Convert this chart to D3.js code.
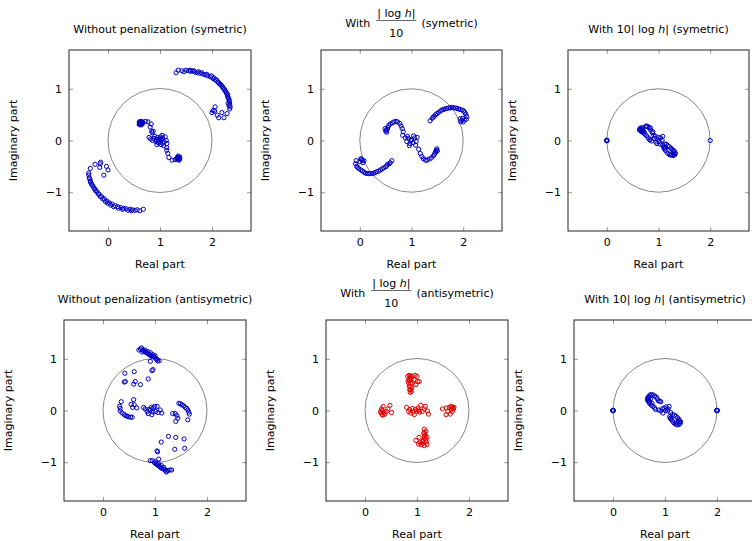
<!DOCTYPE html>
<html>
<head>
<meta charset="utf-8">
<script src="https://cdn.jsdelivr.net/npm/d3@7"></script>
<style>
  body { margin: 0; background: #fff; }
  text { font-family: "DejaVu Sans", sans-serif; font-size: 11px; fill: #000; }
</style>
</head>
<body>
<div id="chart"></div>
<script>
var width = 752,
    height = 541;

var xTicks = [0, 1, 2],
    yTicks = [-1, 0, 1];

// eigenvalues: [real, imaginary]
var symNoPen = [
  [1.31,1.31],[1.35,1.36],[1.42,1.35],[1.46,1.33],[1.50,1.36],[1.55,1.35],[1.59,1.34],[1.63,1.34],[1.68,1.32],[1.72,1.31],
  [1.77,1.30],[1.83,1.28],[1.87,1.27],[1.92,1.25],[1.97,1.23],[2.02,1.20],[2.06,1.17],[2.11,1.13],[2.15,1.09],[2.19,1.05],
  [2.22,1.01],[2.25,0.96],[2.28,0.91],[2.30,0.86],[2.32,0.81],[2.34,0.75],[2.34,0.70],[2.35,0.65],[2.34,0.61],
  [1.58,1.36],[1.65,1.35],[1.74,1.33],[1.80,1.31],[1.90,1.28],[1.99,1.25],[2.04,1.21],[2.09,1.17],[2.13,1.12],[2.17,1.08],
  [2.21,1.03],[2.24,0.99],[2.27,0.94],[2.30,0.89],[2.31,0.83],[2.33,0.78],[2.31,0.72],[2.33,0.67],
  [2.00,0.54],[2.06,0.65],[2.05,0.57],[2.10,0.49],[2.13,0.44],[2.23,0.44],[2.29,0.52],[2.19,0.54],[2.02,0.58],
  [0.68,-1.33],[0.61,-1.36],[0.56,-1.34],[0.52,-1.35],[0.47,-1.34],[0.42,-1.33],[0.35,-1.32],[0.30,-1.31],[0.25,-1.30],
  [0.19,-1.28],[0.14,-1.26],[0.08,-1.23],[0.03,-1.21],[-0.02,-1.17],[-0.07,-1.13],[-0.12,-1.09],[-0.17,-1.04],[-0.21,-0.99],
  [-0.25,-0.94],[-0.29,-0.88],[-0.32,-0.83],[-0.34,-0.78],[-0.36,-0.72],[-0.37,-0.67],[-0.37,-0.63],
  [0.45,-1.36],[0.38,-1.35],[0.28,-1.33],[0.20,-1.31],[0.11,-1.28],[0.05,-1.25],[-0.01,-1.21],[-0.05,-1.18],[-0.10,-1.13],
  [-0.15,-1.08],[-0.19,-1.03],[-0.24,-0.97],[-0.27,-0.92],[-0.31,-0.86],[-0.34,-0.80],[-0.35,-0.74],
  [-0.34,-0.54],[-0.25,-0.46],[-0.15,-0.45],[-0.16,-0.52],[-0.03,-0.50],[0.00,-0.57],[-0.08,-0.67],[-0.14,-0.42],
  [0.60,0.36],[0.62,0.33],[0.64,0.37],[0.66,0.32],[0.63,0.30],[0.60,0.31],[0.67,0.35],[0.65,0.34],[0.61,0.34],
  [0.62,0.36],[0.64,0.31],[0.66,0.36],[0.61,0.32],[0.63,0.35],
  [0.72,0.37],[0.77,0.36],[0.83,0.32],[0.81,0.26],[0.84,0.18],[0.87,0.18],[0.85,0.15],[0.79,0.06],[0.82,0.03],
  [0.88,0.04],[0.92,-0.02],[0.95,0.06],[0.98,-0.05],[1.00,0.03],[1.02,-0.08],[1.05,0.05],[1.08,-0.02],[1.10,0.07],
  [1.12,0.00],[0.94,-0.08],[0.90,0.08],[1.04,0.10],[1.07,-0.10],[0.97,0.01],[1.13,-0.06],[0.86,0.00],
  [0.93,0.02],[0.99,-0.01],[1.03,0.01],[1.06,-0.05],[0.96,-0.04],[1.01,0.07],
  [1.13,-0.19],[1.15,-0.25],[1.17,-0.33],[1.13,-0.14],
  [1.23,-0.38],[1.29,-0.37],[1.33,-0.33],[1.36,-0.36],[1.38,-0.32],[1.35,-0.30],[1.37,-0.38],[1.32,-0.35],[1.34,-0.37],
  [1.36,-0.33],[1.34,-0.32],[1.38,-0.35],[1.35,-0.34]
];

var symLog = [
  [1.36,0.38],[1.40,0.43],[1.44,0.47],[1.49,0.52],[1.56,0.57],[1.62,0.60],[1.68,0.62],[1.75,0.63],[1.81,0.63],[1.88,0.62],
  [1.94,0.60],[2.01,0.57],[2.05,0.51],[2.07,0.46],[2.06,0.41],
  [1.42,0.45],[1.47,0.50],[1.52,0.54],[1.59,0.59],[1.65,0.61],[1.72,0.63],[1.78,0.64],[1.85,0.63],[1.91,0.61],[1.98,0.59],[2.03,0.54],
  [1.97,0.39],[1.94,0.42],[2.00,0.36],[1.95,0.36],[2.02,0.40],[1.99,0.43],
  [0.62,-0.39],[0.59,-0.43],[0.54,-0.46],[0.50,-0.51],[0.43,-0.55],[0.37,-0.59],[0.30,-0.62],[0.24,-0.64],[0.17,-0.64],
  [0.11,-0.63],[0.05,-0.59],[-0.02,-0.54],[-0.06,-0.50],[-0.08,-0.45],[-0.07,-0.39],
  [0.57,-0.45],[0.52,-0.49],[0.46,-0.53],[0.40,-0.57],[0.33,-0.60],[0.27,-0.63],[0.20,-0.64],[0.14,-0.64],[0.08,-0.61],[0.02,-0.57],[-0.04,-0.52],
  [0.05,-0.38],[0.02,-0.35],[0.08,-0.39],[0.00,-0.41],[0.06,-0.43],[0.03,-0.37],
  [0.51,0.20],[0.49,0.23],[0.54,0.25],[0.52,0.16],[0.50,0.18],[0.53,0.21],
  [0.56,0.29],[0.59,0.32],[0.63,0.34],[0.66,0.36],[0.70,0.37],[0.73,0.36],[0.77,0.33],[0.80,0.28],[0.82,0.23],[0.84,0.17],[0.83,0.10],
  [0.88,0.05],[0.91,-0.02],[0.94,0.04],[0.97,-0.06],[1.00,0.02],[1.03,-0.04],[1.06,0.05],[1.09,-0.02],[1.11,0.06],
  [0.92,0.08],[1.04,0.09],[0.96,-0.10],[1.08,-0.09],[0.99,0.00],
  [1.14,-0.17],[1.17,-0.25],[1.20,-0.31],[1.23,-0.35],[1.27,-0.38],[1.30,-0.38],[1.34,-0.36],[1.38,-0.34],[1.42,-0.30],
  [1.48,-0.19],[1.46,-0.24],[1.49,-0.16],[1.44,-0.27],[1.47,-0.21],[1.50,-0.20]
];

var symTen = [
  [0,0],[0.005,0],[-0.005,0],[0,0.005],[0,-0.005],[2,0],
  [0.64,0.22],[0.66,0.20],[0.68,0.18],[0.70,0.16],[0.65,0.24],[0.69,0.25],[0.72,0.14],[0.74,0.12],[0.67,0.17],
  [0.66,0.23],[0.68,0.22],[0.70,0.20],[0.72,0.17],[0.63,0.20],
  [0.75,0.27],[0.77,0.28],[0.79,0.27],[0.82,0.24],[0.84,0.25],[0.85,0.20],[0.88,0.15],[0.89,0.17],[0.91,0.10],
  [0.77,0.09],[0.80,0.05],[0.83,0.01],[0.84,0.02],[0.87,-0.01],
  [0.92,0.04],[0.95,-0.03],[0.98,0.02],[1.01,-0.02],[1.04,0.05],[1.07,0.01],[1.00,0.06],[0.94,0.08],[1.08,0.08],[0.97,-0.06],[1.03,-0.07],
  [1.08,-0.09],[1.12,-0.07],[1.15,-0.07],[1.18,-0.10],[1.21,-0.12],[1.24,-0.15],[1.28,-0.19],[1.31,-0.22],[1.33,-0.25],
  [1.31,-0.28],[1.28,-0.29],[1.25,-0.28],[1.21,-0.27],[1.18,-0.25],[1.14,-0.20],[1.10,-0.14],[1.12,-0.17],[1.11,-0.12],[1.13,-0.15],
  [1.26,-0.17],[1.30,-0.20],[1.29,-0.26],[1.23,-0.28]
];

var antiNoPen = [
  [0.69,1.17],[0.72,1.19],[0.74,1.21],[0.76,1.17],[0.78,1.15],[0.80,1.14],[0.83,1.12],[0.85,1.11],[0.88,1.09],[0.90,1.08],
  [0.92,1.06],[0.94,1.05],[0.97,1.04],[0.99,1.03],[1.02,1.00],[1.04,0.99],[1.08,0.96],[0.75,1.13],[0.81,1.17],[0.86,1.14],
  [0.91,1.12],[0.96,1.08],[1.00,1.06],[0.91,0.95],[0.96,0.79],[0.94,0.77],[1.05,0.96],
  [0.42,0.72],[0.60,0.75],[0.43,0.56],[0.41,0.55],[0.59,0.51],[0.62,0.56],[0.72,0.50],[0.87,0.61],
  [0.35,0.17],[0.32,0.08],[0.33,-0.01],[0.37,-0.05],[0.41,-0.08],[0.44,-0.10],[0.46,-0.11],[0.49,-0.12],[0.53,-0.13],
  [0.56,-0.13],[0.54,0.12],[0.59,0.21],[0.57,0.06],[0.65,0.05],[0.60,0.11],[0.33,0.04],
  [0.78,0.06],[0.81,0.03],[0.85,-0.02],[0.88,0.02],[0.91,0.01],[0.94,-0.08],[0.97,0.05],[1.01,-0.02],[1.04,0.08],
  [1.10,0.01],[1.13,-0.05],[0.93,0.06],[0.99,0.08],[1.06,-0.04],[0.87,-0.06],[0.96,-0.03],
  [1.46,0.14],[1.49,0.13],[1.52,0.11],[1.55,0.09],[1.58,0.06],[1.61,0.04],[1.63,0.01],[1.65,-0.03],[1.66,-0.07],
  [1.34,-0.06],[1.39,-0.06],[1.44,-0.15],[1.40,-0.21],[1.63,-0.18],[1.42,-0.10],
  [1.26,-0.50],[1.40,-0.52],[1.56,-0.55],[1.12,-0.61],[1.04,-0.78],[1.05,-0.80],[1.38,-0.75],[1.57,-0.73],
  [0.91,-0.97],[0.95,-0.97],[0.99,-1.01],[1.07,-0.94],[1.02,-1.03],[1.04,-1.05],[1.07,-1.07],[1.09,-1.08],[1.11,-1.10],
  [1.13,-1.12],[1.16,-1.13],[1.19,-1.15],[1.21,-1.17],[1.22,-1.19],[1.25,-1.16],[1.29,-1.15],[1.32,-1.15],[1.06,-1.02],
  [1.12,-1.06],[1.17,-1.10],[1.01,-0.99]
];

var antiLog = [
  [0.82,0.66],[0.85,0.68],[0.87,0.67],[0.91,0.66],[0.96,0.68],[1.00,0.66],[0.85,0.59],[0.88,0.53],[0.87,0.46],[0.88,0.40],
  [0.87,0.35],[1.01,0.56],[1.04,0.56],[0.98,0.50],[0.91,0.53],[0.84,0.53],[0.86,0.62],[0.89,0.60],[0.85,0.47],[0.90,0.44],
  [0.86,0.40],[0.89,0.37],[0.83,0.57],[0.88,0.63],[0.94,0.60],
  [1.14,-0.36],[1.15,-0.44],[1.17,-0.40],[1.14,-0.50],[1.17,-0.57],[1.19,-0.66],[1.14,-0.68],[1.08,-0.66],[1.03,-0.65],
  [0.98,-0.58],[1.04,-0.52],[1.12,-0.63],[1.18,-0.61],[1.16,-0.48],[1.15,-0.54],[1.12,-0.58],[1.19,-0.52],[1.13,-0.44],
  [1.10,-0.60],[1.06,-0.62],
  [0.30,-0.02],[0.33,-0.08],[0.38,-0.07],[0.35,0.08],[0.48,0.10],[0.44,0.03],[0.51,-0.04],[0.31,-0.05],[0.33,0.00],
  [0.36,-0.04],[0.41,-0.02],[0.32,0.03],[0.34,-0.09],
  [0.80,0.06],[0.84,-0.02],[0.88,-0.05],[0.95,-0.08],[1.00,-0.01],[1.02,0.05],[1.07,0.10],[1.14,0.03],[1.20,-0.01],
  [1.22,-0.07],[1.16,0.08],[0.91,0.04],[0.97,0.02],[1.05,-0.03],[0.86,0.02],[1.10,-0.02],[0.93,-0.03],[1.03,0.01],
  [1.49,0.03],[1.56,0.05],[1.62,0.06],[1.65,0.08],[1.70,0.03],[1.68,-0.02],[1.64,-0.07],[1.56,-0.08],[1.59,-0.02],
  [1.71,0.06],[1.67,0.07],[1.69,0.05],[1.66,0.02]
];

var antiTen = [
  [0,0],[0.005,0],[-0.005,0],[0,0.005],[0,-0.005],
  [2,0],[2.005,0],[1.995,0],[2,0.005],[2,-0.005],
  [0.67,0.25],[0.71,0.30],[0.74,0.31],[0.77,0.30],[0.80,0.28],[0.83,0.26],[0.85,0.23],[0.87,0.19],[0.90,0.18],[0.92,0.17],
  [0.66,0.22],[0.67,0.19],[0.69,0.16],[0.71,0.13],[0.74,0.10],[0.77,0.08],[0.80,0.05],[0.82,0.02],[0.68,0.21],[0.70,0.18],
  [0.68,0.24],[0.69,0.27],[0.72,0.22],[0.75,0.14],
  [0.88,0.01],[0.92,-0.01],[0.95,0.03],[0.98,0.05],[1.01,0.00],[1.05,-0.01],[1.08,0.08],[1.06,0.03],[0.96,-0.05],[1.02,0.07],
  [1.11,-0.04],[1.14,-0.08],[1.18,-0.09],[1.21,-0.11],[1.24,-0.14],[1.27,-0.17],[1.30,-0.22],[1.29,-0.25],[1.27,-0.27],
  [1.23,-0.28],[1.20,-0.26],[1.17,-0.24],[1.14,-0.20],[1.11,-0.15],[1.10,-0.15],[1.12,-0.17],[1.09,-0.12],
  [1.26,-0.20],[1.28,-0.22],[1.22,-0.24]
];

// frame boxes of the six panels, in pixels
var panels = [
  { data: symNoPen,  color: "#0000c0", left: 69,  right: 251, top: 50,  bottom: 231, title: "plain", text: "Without penalization (symetric)" },
  { data: symLog,    color: "#0000c0", left: 321, right: 502, top: 50,  bottom: 231, title: "frac",  text: "(symetric)" },
  { data: symTen,    color: "#0000c0", left: 568, right: 749, top: 50,  bottom: 231, title: "ten",   text: "(symetric)" },
  { data: antiNoPen, color: "#0000c0", left: 64,  right: 246, top: 320, bottom: 501, title: "plain", text: "Without penalization (antisymetric)" },
  { data: antiLog,   color: "#e00000", left: 326, right: 508, top: 320, bottom: 501, title: "frac",  text: "(antisymetric)" },
  { data: antiTen,   color: "#0000c0", left: 574, right: 756, top: 320, bottom: 501, title: "ten",   text: "(antisymetric)" }
];

var fmt = d3.format("d");

var svg = d3.select("#chart").append("svg")
    .attr("width", width)
    .attr("height", height);

panels.forEach(function(p) {
  var x = d3.scaleLinear().domain([-0.75, 2.75]).range([p.left, p.right]);
  var y = d3.scaleLinear().domain([-1.75, 1.75]).range([p.bottom, p.top]);
  var cx = (p.left + p.right) / 2,
      cy = (p.top + p.bottom) / 2;
  var g = svg.append("g");

  // axes, ticks inside on all sides
  var bottomAxis = g.append("g").attr("transform", "translate(0," + p.bottom + ")")
      .call(d3.axisBottom(x).tickValues(xTicks).tickFormat(fmt).tickSize(-4).tickPadding(7));
  var topAxis = g.append("g").attr("transform", "translate(0," + p.top + ")")
      .call(d3.axisTop(x).tickValues(xTicks).tickSize(-4).tickFormat(""));
  var leftAxis = g.append("g").attr("transform", "translate(" + p.left + ",0)")
      .call(d3.axisLeft(y).tickValues(yTicks).tickFormat(fmt).tickSize(-4).tickPadding(7));
  var rightAxis = g.append("g").attr("transform", "translate(" + p.right + ",0)")
      .call(d3.axisRight(y).tickValues(yTicks).tickSize(-4).tickFormat(""));
  [bottomAxis, topAxis, leftAxis, rightAxis].forEach(function(a) {
    a.attr("font-family", null).attr("font-size", null);
    a.select(".domain").remove();
    a.selectAll(".tick line").attr("stroke", "#999");
  });

  // unit circle around 1
  g.append("circle")
      .attr("cx", x(1)).attr("cy", y(0))
      .attr("r", x(2) - x(1))
      .attr("fill", "none")
      .attr("stroke", "#888")
      .attr("stroke-width", 1);

  g.append("rect")
      .attr("x", p.left).attr("y", p.top)
      .attr("width", p.right - p.left).attr("height", p.bottom - p.top)
      .attr("fill", "none")
      .attr("stroke", "#222")
      .attr("stroke-width", 1);

  g.append("g").selectAll("circle")
      .data(p.data)
      .enter().append("circle")
      .attr("cx", function(d) { return x(d[0]); })
      .attr("cy", function(d) { return y(d[1]); })
      .attr("r", 2.1)
      .attr("fill", "none")
      .attr("stroke", p.color)
      .attr("stroke-width", 1);

  // axis labels
  g.append("text")
      .attr("x", cx).attr("y", p.bottom + 37)
      .attr("text-anchor", "middle")
      .text("Real part");
  g.append("text")
      .attr("transform", "translate(" + (p.left - 56) + "," + cy + ") rotate(-90)")
      .attr("dy", "0.35em")
      .attr("text-anchor", "middle")
      .text("Imaginary part");

  // titles
  var base = p.top - 17;
  if (p.title === "plain") {
    g.append("text").attr("x", cx).attr("y", base)
        .attr("text-anchor", "middle").text(p.text);
  } else if (p.title === "ten") {
    var t = g.append("text").attr("x", cx).attr("y", base).attr("text-anchor", "middle");
    t.append("tspan").text("With 10| log ");
    t.append("tspan").attr("font-style", "italic").text("h");
    t.append("tspan").text("| " + p.text);
  } else {
    var b = p.top - 23;
    var tg = g.append("g");
    var w1 = tg.append("text").attr("x", 0).attr("y", b).text("With");
    var x1 = w1.node().getComputedTextLength() + 6;
    var num = tg.append("text").attr("y", b - 10).attr("text-anchor", "middle");
    num.append("tspan").text("| log ");
    num.append("tspan").attr("font-style", "italic").text("h");
    num.append("tspan").text("|");
    var fw = num.node().getComputedTextLength() + 2;
    num.attr("x", x1 + fw / 2);
    tg.append("line")
        .attr("x1", x1).attr("x2", x1 + fw)
        .attr("y1", b - 6.5).attr("y2", b - 6.5)
        .attr("stroke", "#000").attr("stroke-width", 0.6);
    tg.append("text").attr("x", x1 + fw / 2).attr("y", b + 10)
        .attr("text-anchor", "middle").text("10");
    var w3 = tg.append("text").attr("x", x1 + fw + 5).attr("y", b).text(p.text);
    var total = x1 + fw + 5 + w3.node().getComputedTextLength();
    tg.attr("transform", "translate(" + (cx - total / 2) + ",0)");
  }
});
</script>
</body>
</html>
